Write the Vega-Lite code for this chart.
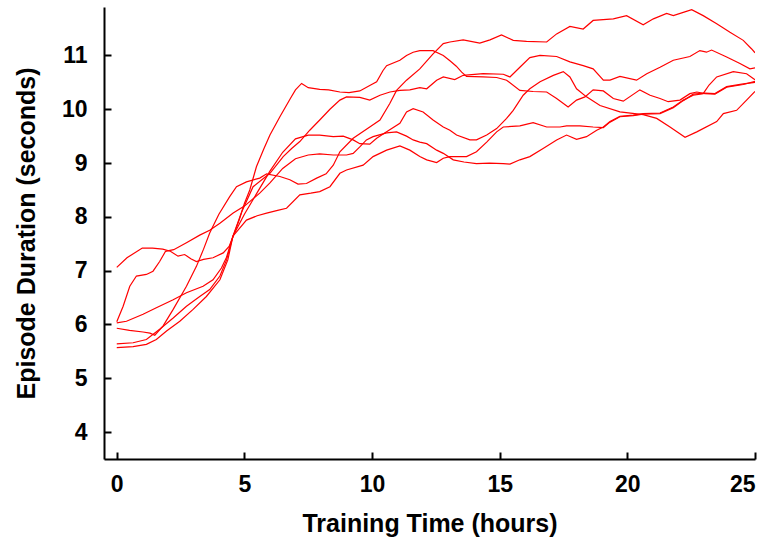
{
  "$schema": "https://vega.github.io/schema/vega-lite/v6.json",
  "autosize": "none",
  "width": 651,
  "height": 452,
  "padding": {"left": 104, "top": 7, "right": 23, "bottom": 84},
  "background": "white",
  "config": {
    "view": {"stroke": null},
    "font": "Liberation Sans",
    "axis": {
      "grid": false,
      "domainColor": "black",
      "domainWidth": 2,
      "tickColor": "black",
      "tickWidth": 2,
      "tickSize": -7,
      "labelFont": "Liberation Sans",
      "labelFontSize": 23,
      "labelFontWeight": "bold",
      "labelColor": "black",
      "titleFont": "Liberation Sans",
      "titleFontSize": 25,
      "titleFontWeight": "bold",
      "titleColor": "black"
    }
  },
  "data": {
    "values": [
      {"s":1,"x":0,"y":7.06},{"s":1,"x":0.4,"y":7.24},{"s":1,"x":1.0,"y":7.42},{"s":1,"x":1.4,"y":7.42},{"s":1,"x":1.8,"y":7.40},{"s":1,"x":2.1,"y":7.36},{"s":1,"x":2.4,"y":7.27},{"s":1,"x":2.66,"y":7.30},{"s":1,"x":2.9,"y":7.22},{"s":1,"x":3.12,"y":7.17},{"s":1,"x":3.4,"y":7.21},{"s":1,"x":3.77,"y":7.24},{"s":1,"x":4.17,"y":7.33},{"s":1,"x":4.4,"y":7.45},{"s":1,"x":4.56,"y":7.64},{"s":1,"x":4.8,"y":7.95},{"s":1,"x":5.0,"y":8.25},{"s":1,"x":5.21,"y":8.5},{"s":1,"x":5.47,"y":8.93},{"s":1,"x":5.75,"y":9.25},{"s":1,"x":6.0,"y":9.52},{"s":1,"x":6.39,"y":9.86},{"s":1,"x":6.8,"y":10.2},{"s":1,"x":7.0,"y":10.36},{"s":1,"x":7.24,"y":10.48},{"s":1,"x":7.5,"y":10.40},{"s":1,"x":7.95,"y":10.37},{"s":1,"x":8.3,"y":10.36},{"s":1,"x":8.74,"y":10.32},{"s":1,"x":9.1,"y":10.31},{"s":1,"x":9.52,"y":10.34},{"s":1,"x":9.91,"y":10.44},{"s":1,"x":10.18,"y":10.51},{"s":1,"x":10.43,"y":10.72},{"s":1,"x":10.57,"y":10.81},{"s":1,"x":11.09,"y":10.91},{"s":1,"x":11.35,"y":11.0},{"s":1,"x":11.61,"y":11.06},{"s":1,"x":11.87,"y":11.09},{"s":1,"x":12.39,"y":11.09},{"s":1,"x":12.79,"y":11.0},{"s":1,"x":13.05,"y":10.9},{"s":1,"x":13.3,"y":10.8},{"s":1,"x":13.51,"y":10.69},{"s":1,"x":13.7,"y":10.61},{"s":1,"x":14.35,"y":10.60},{"s":1,"x":14.88,"y":10.59},{"s":1,"x":15.27,"y":10.54},{"s":1,"x":15.79,"y":10.35},{"s":1,"x":16.31,"y":10.33},{"s":1,"x":16.84,"y":10.32},{"s":1,"x":17.23,"y":10.2},{"s":1,"x":17.68,"y":10.04},{"s":1,"x":18.01,"y":10.17},{"s":1,"x":18.34,"y":10.23},{"s":1,"x":18.66,"y":10.36},{"s":1,"x":19.06,"y":10.34},{"s":1,"x":19.45,"y":10.2},{"s":1,"x":19.84,"y":10.15},{"s":1,"x":20.49,"y":10.36},{"s":1,"x":20.89,"y":10.26},{"s":1,"x":21.28,"y":10.2},{"s":1,"x":21.6,"y":10.14},{"s":1,"x":22.06,"y":10.17},{"s":1,"x":22.45,"y":10.29},{"s":1,"x":22.72,"y":10.32},{"s":1,"x":23.04,"y":10.29},{"s":1,"x":23.43,"y":10.28},{"s":1,"x":23.89,"y":10.41},{"s":1,"x":24.54,"y":10.46},{"s":1,"x":25,"y":10.52},

      {"s":2,"x":0,"y":6.05},{"s":2,"x":0.25,"y":6.34},{"s":2,"x":0.51,"y":6.71},{"s":2,"x":0.77,"y":6.9},{"s":2,"x":1.16,"y":6.93},{"s":2,"x":1.42,"y":6.99},{"s":2,"x":1.68,"y":7.17},{"s":2,"x":1.91,"y":7.36},{"s":2,"x":2.23,"y":7.39},{"s":2,"x":2.73,"y":7.52},{"s":2,"x":3.25,"y":7.66},{"s":2,"x":3.64,"y":7.75},{"s":2,"x":4.04,"y":7.88},{"s":2,"x":4.56,"y":8.07},{"s":2,"x":5.0,"y":8.2},{"s":2,"x":5.6,"y":8.44},{"s":2,"x":6.0,"y":8.63},{"s":2,"x":6.5,"y":8.9},{"s":2,"x":7.0,"y":9.08},{"s":2,"x":7.5,"y":9.15},{"s":2,"x":7.95,"y":9.17},{"s":2,"x":8.48,"y":9.15},{"s":2,"x":9.0,"y":9.15},{"s":2,"x":9.26,"y":9.18},{"s":2,"x":9.52,"y":9.3},{"s":2,"x":9.78,"y":9.43},{"s":2,"x":10.04,"y":9.49},{"s":2,"x":10.57,"y":9.56},{"s":2,"x":10.96,"y":9.58},{"s":2,"x":11.35,"y":9.5},{"s":2,"x":11.61,"y":9.43},{"s":2,"x":11.87,"y":9.39},{"s":2,"x":12.14,"y":9.36},{"s":2,"x":12.53,"y":9.24},{"s":2,"x":12.79,"y":9.18},{"s":2,"x":13.18,"y":9.06},{"s":2,"x":13.6,"y":9.02},{"s":2,"x":14.09,"y":8.99},{"s":2,"x":14.6,"y":9.0},{"s":2,"x":15.14,"y":8.99},{"s":2,"x":15.4,"y":8.98},{"s":2,"x":15.79,"y":9.06},{"s":2,"x":16.18,"y":9.12},{"s":2,"x":16.7,"y":9.27},{"s":2,"x":17.23,"y":9.43},{"s":2,"x":17.62,"y":9.52},{"s":2,"x":18.01,"y":9.44},{"s":2,"x":18.4,"y":9.49},{"s":2,"x":18.8,"y":9.61},{"s":2,"x":19.06,"y":9.67},{"s":2,"x":19.32,"y":9.77},{"s":2,"x":19.71,"y":9.87},{"s":2,"x":20.23,"y":9.89},{"s":2,"x":20.62,"y":9.92},{"s":2,"x":21.28,"y":9.93},{"s":2,"x":21.8,"y":10.04},{"s":2,"x":22.19,"y":10.17},{"s":2,"x":22.58,"y":10.26},{"s":2,"x":22.97,"y":10.29},{"s":2,"x":23.2,"y":10.45},{"s":2,"x":23.5,"y":10.6},{"s":2,"x":24.15,"y":10.70},{"s":2,"x":24.67,"y":10.66},{"s":2,"x":25,"y":10.55},

      {"s":3,"x":0,"y":5.93},{"s":3,"x":0.5,"y":5.89},{"s":3,"x":1.03,"y":5.86},{"s":3,"x":1.3,"y":5.84},{"s":3,"x":1.49,"y":5.8},{"s":3,"x":1.81,"y":5.97},{"s":3,"x":2.21,"y":6.28},{"s":3,"x":2.73,"y":6.71},{"s":3,"x":3.12,"y":7.08},{"s":3,"x":3.4,"y":7.4},{"s":3,"x":3.64,"y":7.7},{"s":3,"x":4.0,"y":8.05},{"s":3,"x":4.43,"y":8.38},{"s":3,"x":4.69,"y":8.56},{"s":3,"x":5.08,"y":8.65},{"s":3,"x":5.6,"y":8.72},{"s":3,"x":5.87,"y":8.8},{"s":3,"x":6.39,"y":8.75},{"s":3,"x":6.78,"y":8.69},{"s":3,"x":7.1,"y":8.61},{"s":3,"x":7.43,"y":8.62},{"s":3,"x":7.83,"y":8.72},{"s":3,"x":8.2,"y":8.8},{"s":3,"x":8.48,"y":8.96},{"s":3,"x":8.74,"y":9.21},{"s":3,"x":9.26,"y":9.46},{"s":3,"x":9.91,"y":9.67},{"s":3,"x":10.31,"y":9.80},{"s":3,"x":10.70,"y":10.11},{"s":3,"x":10.96,"y":10.35},{"s":3,"x":11.35,"y":10.54},{"s":3,"x":11.87,"y":10.75},{"s":3,"x":12.39,"y":11.03},{"s":3,"x":12.79,"y":11.22},{"s":3,"x":13.05,"y":11.25},{"s":3,"x":13.57,"y":11.29},{"s":3,"x":14.22,"y":11.23},{"s":3,"x":14.62,"y":11.29},{"s":3,"x":15.07,"y":11.38},{"s":3,"x":15.53,"y":11.28},{"s":3,"x":16.05,"y":11.26},{"s":3,"x":16.84,"y":11.25},{"s":3,"x":17.23,"y":11.40},{"s":3,"x":17.75,"y":11.54},{"s":3,"x":18.27,"y":11.49},{"s":3,"x":18.66,"y":11.65},{"s":3,"x":19.45,"y":11.68},{"s":3,"x":19.97,"y":11.74},{"s":3,"x":20.62,"y":11.57},{"s":3,"x":21.02,"y":11.68},{"s":3,"x":21.54,"y":11.78},{"s":3,"x":21.8,"y":11.74},{"s":3,"x":22.19,"y":11.80},{"s":3,"x":22.52,"y":11.85},{"s":3,"x":22.97,"y":11.74},{"s":3,"x":23.5,"y":11.59},{"s":3,"x":24.02,"y":11.43},{"s":3,"x":24.54,"y":11.28},{"s":3,"x":24.87,"y":11.12},{"s":3,"x":25,"y":11.05},

      {"s":4,"x":0,"y":6.03},{"s":4,"x":0.38,"y":6.06},{"s":4,"x":1.03,"y":6.19},{"s":4,"x":1.55,"y":6.31},{"s":4,"x":2.21,"y":6.46},{"s":4,"x":2.73,"y":6.59},{"s":4,"x":3.38,"y":6.71},{"s":4,"x":3.77,"y":6.83},{"s":4,"x":4.1,"y":7.05},{"s":4,"x":4.3,"y":7.25},{"s":4,"x":4.55,"y":7.64},{"s":4,"x":4.9,"y":8.1},{"s":4,"x":5.34,"y":8.56},{"s":4,"x":6.0,"y":8.81},{"s":4,"x":6.52,"y":9.12},{"s":4,"x":6.85,"y":9.27},{"s":4,"x":7.17,"y":9.4},{"s":4,"x":7.56,"y":9.61},{"s":4,"x":7.95,"y":9.8},{"s":4,"x":8.35,"y":10.0},{"s":4,"x":8.74,"y":10.17},{"s":4,"x":9.0,"y":10.23},{"s":4,"x":9.52,"y":10.22},{"s":4,"x":9.91,"y":10.17},{"s":4,"x":10.31,"y":10.26},{"s":4,"x":10.7,"y":10.32},{"s":4,"x":11.09,"y":10.35},{"s":4,"x":11.48,"y":10.36},{"s":4,"x":11.87,"y":10.40},{"s":4,"x":12.14,"y":10.38},{"s":4,"x":12.53,"y":10.54},{"s":4,"x":12.79,"y":10.6},{"s":4,"x":13.24,"y":10.55},{"s":4,"x":13.57,"y":10.63},{"s":4,"x":14.35,"y":10.66},{"s":4,"x":15.14,"y":10.65},{"s":4,"x":15.4,"y":10.6},{"s":4,"x":15.79,"y":10.78},{"s":4,"x":16.18,"y":10.96},{"s":4,"x":16.58,"y":11.0},{"s":4,"x":17.23,"y":10.98},{"s":4,"x":17.75,"y":10.88},{"s":4,"x":18.27,"y":10.81},{"s":4,"x":18.66,"y":10.75},{"s":4,"x":19.06,"y":10.54},{"s":4,"x":19.32,"y":10.54},{"s":4,"x":19.71,"y":10.61},{"s":4,"x":20.36,"y":10.54},{"s":4,"x":20.76,"y":10.66},{"s":4,"x":21.28,"y":10.78},{"s":4,"x":21.8,"y":10.91},{"s":4,"x":22.45,"y":10.98},{"s":4,"x":22.84,"y":11.09},{"s":4,"x":23.1,"y":11.06},{"s":4,"x":23.3,"y":11.1},{"s":4,"x":23.89,"y":10.97},{"s":4,"x":24.41,"y":10.85},{"s":4,"x":24.8,"y":10.75},{"s":4,"x":25,"y":10.77},

      {"s":5,"x":0,"y":5.64},{"s":5,"x":0.64,"y":5.66},{"s":5,"x":1.16,"y":5.72},{"s":5,"x":1.68,"y":5.91},{"s":5,"x":2.21,"y":6.12},{"s":5,"x":2.73,"y":6.34},{"s":5,"x":3.25,"y":6.52},{"s":5,"x":3.64,"y":6.65},{"s":5,"x":4.04,"y":6.9},{"s":5,"x":4.3,"y":7.2},{"s":5,"x":4.55,"y":7.64},{"s":5,"x":5.0,"y":8.05},{"s":5,"x":5.5,"y":8.45},{"s":5,"x":6.0,"y":8.85},{"s":5,"x":6.5,"y":9.2},{"s":5,"x":7.0,"y":9.45},{"s":5,"x":7.5,"y":9.52},{"s":5,"x":7.95,"y":9.52},{"s":5,"x":8.48,"y":9.49},{"s":5,"x":8.87,"y":9.5},{"s":5,"x":9.26,"y":9.43},{"s":5,"x":9.52,"y":9.36},{"s":5,"x":9.91,"y":9.35},{"s":5,"x":10.18,"y":9.46},{"s":5,"x":10.57,"y":9.58},{"s":5,"x":11.09,"y":9.74},{"s":5,"x":11.35,"y":9.95},{"s":5,"x":11.61,"y":10.01},{"s":5,"x":12.0,"y":9.95},{"s":5,"x":12.39,"y":9.8},{"s":5,"x":12.79,"y":9.67},{"s":5,"x":13.05,"y":9.61},{"s":5,"x":13.31,"y":9.52},{"s":5,"x":13.83,"y":9.43},{"s":5,"x":14.09,"y":9.43},{"s":5,"x":14.49,"y":9.52},{"s":5,"x":14.88,"y":9.64},{"s":5,"x":15.27,"y":9.83},{"s":5,"x":15.53,"y":9.98},{"s":5,"x":15.92,"y":10.26},{"s":5,"x":16.18,"y":10.38},{"s":5,"x":16.58,"y":10.51},{"s":5,"x":17.1,"y":10.63},{"s":5,"x":17.49,"y":10.70},{"s":5,"x":17.75,"y":10.6},{"s":5,"x":18.01,"y":10.38},{"s":5,"x":18.4,"y":10.23},{"s":5,"x":18.93,"y":10.07},{"s":5,"x":19.71,"y":9.95},{"s":5,"x":20.62,"y":9.9},{"s":5,"x":21.15,"y":9.83},{"s":5,"x":21.67,"y":9.67},{"s":5,"x":22.26,"y":9.48},{"s":5,"x":22.72,"y":9.58},{"s":5,"x":23.5,"y":9.77},{"s":5,"x":23.76,"y":9.92},{"s":5,"x":24.28,"y":9.98},{"s":5,"x":24.67,"y":10.17},{"s":5,"x":25,"y":10.33},

      {"s":6,"x":0,"y":5.57},{"s":6,"x":0.64,"y":5.59},{"s":6,"x":1.16,"y":5.63},{"s":6,"x":1.55,"y":5.72},{"s":6,"x":1.95,"y":5.88},{"s":6,"x":2.47,"y":6.06},{"s":6,"x":2.99,"y":6.28},{"s":6,"x":3.51,"y":6.52},{"s":6,"x":4.04,"y":6.83},{"s":6,"x":4.35,"y":7.2},{"s":6,"x":4.55,"y":7.64},{"s":6,"x":5.08,"y":7.94},{"s":6,"x":5.5,"y":8.02},{"s":6,"x":5.87,"y":8.07},{"s":6,"x":6.3,"y":8.12},{"s":6,"x":6.65,"y":8.16},{"s":6,"x":7.17,"y":8.41},{"s":6,"x":7.6,"y":8.44},{"s":6,"x":7.95,"y":8.47},{"s":6,"x":8.35,"y":8.56},{"s":6,"x":8.74,"y":8.81},{"s":6,"x":9.0,"y":8.87},{"s":6,"x":9.65,"y":8.96},{"s":6,"x":10.04,"y":9.12},{"s":6,"x":10.57,"y":9.24},{"s":6,"x":11.09,"y":9.32},{"s":6,"x":11.48,"y":9.24},{"s":6,"x":11.87,"y":9.12},{"s":6,"x":12.14,"y":9.06},{"s":6,"x":12.53,"y":9.01},{"s":6,"x":12.79,"y":9.09},{"s":6,"x":13.05,"y":9.12},{"s":6,"x":13.7,"y":9.12},{"s":6,"x":14.09,"y":9.21},{"s":6,"x":14.49,"y":9.39},{"s":6,"x":14.88,"y":9.58},{"s":6,"x":15.14,"y":9.67},{"s":6,"x":15.79,"y":9.69},{"s":6,"x":16.31,"y":9.75},{"s":6,"x":16.84,"y":9.67},{"s":6,"x":17.36,"y":9.67},{"s":6,"x":17.62,"y":9.69},{"s":6,"x":18.14,"y":9.69},{"s":6,"x":18.66,"y":9.67},{"s":6,"x":19.06,"y":9.66},{"s":6,"x":19.32,"y":9.76},{"s":6,"x":19.71,"y":9.86},{"s":6,"x":20.23,"y":9.88},{"s":6,"x":20.62,"y":9.91},{"s":6,"x":21.28,"y":9.92},{"s":6,"x":21.8,"y":10.03},{"s":6,"x":22.19,"y":10.16},{"s":6,"x":22.58,"y":10.28},{"s":6,"x":23.04,"y":10.3},{"s":6,"x":23.43,"y":10.29},{"s":6,"x":23.89,"y":10.42},{"s":6,"x":24.54,"y":10.47},{"s":6,"x":25,"y":10.5}
    ]
  },
  "mark": {"type": "line", "color": "#ff0000", "strokeWidth": 1.2, "clip": true},
  "encoding": {
    "x": {
      "field": "x", "type": "quantitative",
      "scale": {"domain": [-0.5, 25], "nice": false, "zero": false},
      "axis": {
        "values": [0, 5, 10, 15, 20, 25],
        "labelPadding": 21,
        "title": "Training Time (hours)",
        "titleX": 325.5,
        "titleY": 72,
        "titleBaseline": "alphabetic",
        "titleAlign": "center"
      }
    },
    "y": {
      "field": "y", "type": "quantitative",
      "scale": {"domain": [3.5, 11.9], "nice": false, "zero": false},
      "axis": {
        "values": [4, 5, 6, 7, 8, 9, 10, 11],
        "labelPadding": 24,
        "title": "Episode Duration (seconds)",
        "titleX": -70,
        "titleY": 226,
        "titleAngle": -90,
        "titleBaseline": "alphabetic",
        "titleAlign": "center"
      }
    },
    "detail": {"field": "s", "type": "nominal"}
  }
}
